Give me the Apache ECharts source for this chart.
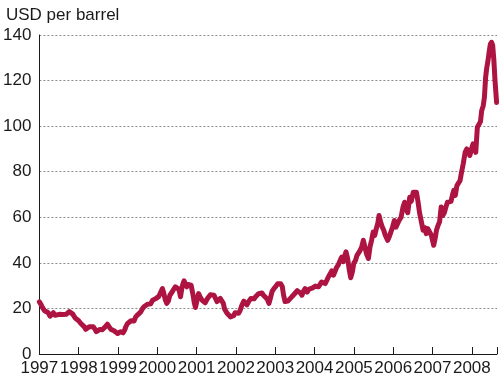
<!DOCTYPE html>
<html>
<head>
<meta charset="utf-8">
<script src="https://cdn.jsdelivr.net/npm/echarts@6/dist/echarts.min.js"></script>
<style>
html,body{margin:0;padding:0;background:#fff;}
#chart{width:500px;height:382px;}
</style>
</head>
<body>
<div id="chart"></div>
<script>
var yAxisTitle = "USD per barrel";
var yearTicks = [1997,1998,1999,2000,2001,2002,2003,2004,2005,2006,2007,2008];
var dates = [
1997.00,1997.04,1997.085,1997.13,1997.17,1997.22,1997.27,1997.31,1997.355,1997.40,1997.44,1997.51,1997.55,1997.59,1997.64,1997.68,1997.72,1997.76,1997.80,1997.85,1997.91,1997.96,
1998.00,1998.05,1998.10,1998.15,1998.18,1998.23,1998.27,1998.32,1998.37,1998.41,1998.45,1998.50,1998.54,1998.60,1998.65,1998.69,1998.73,1998.78,1998.82,1998.86,1998.90,1998.95,1998.99,
1999.03,1999.07,1999.13,1999.17,1999.20,1999.24,1999.28,1999.33,1999.37,1999.41,1999.45,1999.50,1999.54,1999.58,1999.62,1999.66,1999.70,1999.75,1999.79,1999.83,1999.88,1999.92,1999.96,
2000.00,2000.04,2000.07,2000.10,2000.13,2000.16,2000.20,2000.24,2000.28,2000.32,2000.38,2000.42,2000.46,2000.50,2000.55,2000.59,2000.63,2000.66,2000.68,2000.72,2000.75,2000.78,2000.81,2000.86,2000.91,2000.94,2000.97,
2001.01,2001.05,2001.09,2001.14,2001.18,2001.22,2001.27,2001.31,2001.35,2001.39,2001.44,2001.48,2001.52,2001.56,2001.60,2001.65,2001.68,2001.71,2001.77,2001.82,2001.86,2001.90,2001.94,2001.98,
2002.03,2002.07,2002.11,2002.15,2002.20,2002.24,2002.28,2002.33,2002.38,2002.42,2002.46,2002.50,2002.54,2002.58,2002.62,2002.66,2002.70,2002.75,2002.80,2002.84,2002.88,2002.92,2002.97,
2003.02,2003.06,2003.10,2003.14,2003.18,2003.21,2003.25,2003.28,2003.32,2003.36,2003.42,2003.47,2003.51,2003.56,2003.60,2003.64,2003.68,2003.72,2003.76,2003.81,2003.86,2003.90,2003.94,2003.98,
2004.02,2004.06,2004.10,2004.14,2004.18,2004.22,2004.27,2004.31,2004.35,2004.39,2004.44,2004.48,2004.52,2004.56,2004.60,2004.65,2004.69,2004.73,2004.77,2004.80,2004.84,2004.88,2004.92,2004.96,
2005.00,2005.04,2005.08,2005.12,2005.16,2005.20,2005.24,2005.28,2005.32,2005.37,2005.41,2005.45,2005.49,2005.53,2005.57,2005.61,2005.64,2005.68,2005.72,2005.76,2005.80,2005.86,2005.90,2005.94,2005.98,
2006.03,2006.07,2006.11,2006.15,2006.20,2006.25,2006.29,2006.33,2006.37,2006.42,2006.46,2006.51,2006.55,2006.59,2006.63,2006.67,2006.71,2006.76,2006.80,2006.84,2006.88,2006.93,2006.97,
2007.03,2007.07,2007.10,2007.14,2007.18,2007.22,2007.26,2007.30,2007.34,2007.38,2007.43,2007.47,2007.51,2007.54,2007.58,2007.62,2007.66,2007.70,2007.74,2007.78,2007.83,2007.87,2007.91,2007.95,2007.99,
2008.03,2008.06,2008.10,2008.14,2008.18,2008.22,2008.25,2008.29,2008.32,2008.35,2008.38,2008.41,2008.44,2008.47,2008.50,2008.53,2008.56,2008.59,2008.63
];
var prices = [
22.9,21.8,20.2,19.0,18.3,18.2,16.6,17.3,18.1,17.0,16.8,17.4,17.0,17.3,17.1,17.4,18.0,18.6,18.2,17.5,15.8,15.0,
14.6,13.5,12.7,11.8,10.8,11.6,12.0,11.8,12.0,11.0,9.8,10.5,10.8,10.6,11.0,12.2,13.1,11.8,10.8,10.6,10.2,9.4,9.0,
9.6,9.8,9.3,10.5,12.0,13.3,14.1,14.6,15.2,14.5,16.3,17.2,17.8,18.5,19.8,20.7,21.2,21.8,22.5,22.0,23.6,24.4,24.3,
25.1,25.3,26.5,27.6,28.7,27.0,24.0,22.2,23.2,25.8,27.3,28.5,29.5,28.8,28.3,25.1,29.5,31.2,32.1,30.5,29.5,30.5,30.9,30.2,25.8,22.5,20.4,
23.5,26.5,25.0,23.6,24.0,22.5,24.2,25.1,26.0,26.5,25.8,24.4,23.0,22.2,24.4,25.0,22.2,19.8,18.0,17.2,16.3,16.6,16.8,18.1,
17.6,17.9,19.3,21.4,23.2,22.9,21.6,23.2,24.4,25.0,24.2,25.1,25.8,26.5,27.3,26.8,25.8,25.3,24.0,22.2,24.8,27.5,28.8,
29.8,30.8,31.6,30.8,29.5,26.0,23.0,22.4,23.2,24.0,25.1,26.0,26.5,27.8,28.4,26.8,25.8,27.6,28.7,27.2,28.5,28.3,28.9,29.6,
29.8,29.2,29.5,30.2,31.6,31.0,30.9,32.3,33.8,35.0,36.5,34.6,36.2,38.0,39.0,41.1,42.5,40.5,43.3,44.8,42.0,37.2,33.5,36.0,
40.0,41.0,43.3,42.5,45.5,47.0,49.9,47.0,44.0,41.9,47.0,49.9,53.5,52.0,55.0,57.5,60.8,57.9,55.8,54.3,52.0,49.9,51.5,53.5,55.5,
58.6,55.7,55.0,58.6,60.0,64.5,66.6,63.5,62.0,68.8,67.0,71.0,70.5,71.0,67.0,62.0,58.6,54.3,55.5,52.8,55.0,54.8,52.1,
47.7,51.0,54.3,56.4,58.0,64.5,60.8,62.0,64.5,66.6,65.9,67.0,70.0,71.8,69.6,73.9,75.0,76.1,80.0,83.4,88.5,90.0,89.0,87.1,90.0,
92.2,90.0,88.5,99.5,99.0,102.0,106.8,109.0,112.6,121.3,125.7,128.6,132.5,135.9,136.8,135.5,129.0,119.9,110.4
];

var seriesData = dates.map(function (d, i) { return [d, prices[i]]; });
var font = "'Liberation Sans', Arial, sans-serif";
var chart = echarts.init(document.getElementById('chart'), null, {renderer: 'canvas'});
chart.setOption({
  animation: false,
  backgroundColor: '#ffffff',
  title: {
    text: yAxisTitle,
    left: 1,
    top: 2,
    textStyle: {fontFamily: font, fontSize: 17, fontWeight: 'normal', color: '#1a1a1a'}
  },
  grid: {left: 39, right: 2, top: 35, bottom: 28, containLabel: false},
  xAxis: {
    type: 'value',
    min: yearTicks[0],
    max: 2008.64,
    interval: 1,
    axisLine: {show: true, lineStyle: {color: '#1a1a1a', width: 1}},
    axisTick: {show: true, inside: true, length: 7, lineStyle: {color: '#1a1a1a'}},
    axisLabel: {
      fontFamily: font, fontSize: 17, color: '#1a1a1a', margin: 6,
      formatter: function (v) { return yearTicks.indexOf(v) >= 0 ? String(v) : ''; }
    },
    splitLine: {show: false}
  },
  yAxis: {
    type: 'value',
    min: 0,
    max: 140,
    interval: 20,
    axisLine: {show: true, lineStyle: {color: '#1a1a1a', width: 1}},
    axisTick: {show: false},
    axisLabel: {fontFamily: font, fontSize: 17, color: '#1a1a1a', margin: 8},
    splitLine: {show: true, lineStyle: {color: '#8a8a8a', width: 1, type: [2, 2]}}
  },
  series: [{
    type: 'line',
    data: seriesData,
    showSymbol: false,
    symbol: 'none',
    lineStyle: {color: '#ad1442', width: 5, join: 'round', cap: 'round'},
    z: 3
  }]
});
</script>
</body>
</html>
